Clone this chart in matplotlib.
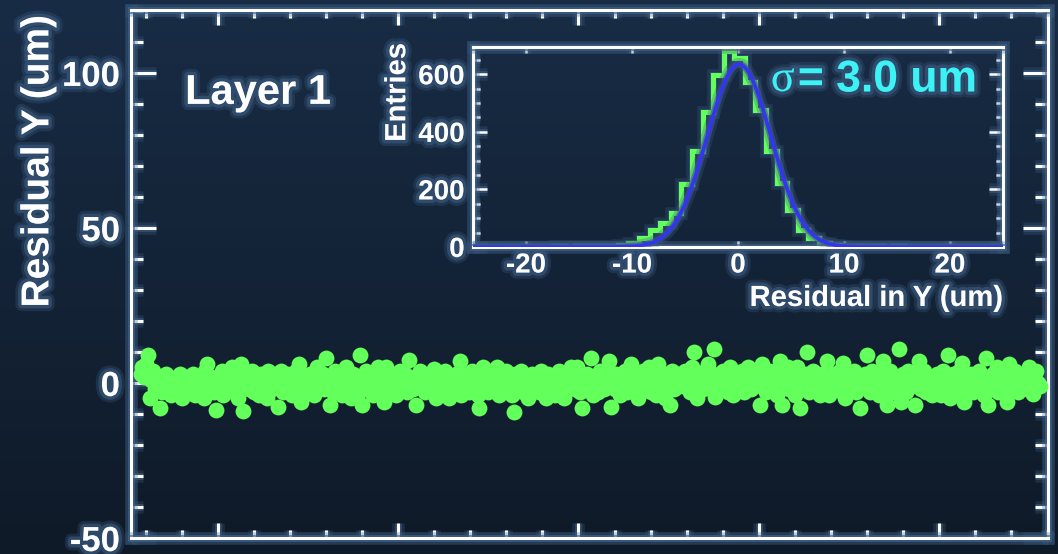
import numpy as np
import matplotlib
matplotlib.use("Agg")
import matplotlib.pyplot as plt
import matplotlib.patheffects as pe
from matplotlib.colors import LinearSegmentedColormap
from matplotlib.ticker import MultipleLocator, NullFormatter, FixedLocator

# ---- data ----
# residual in Y (um) for each event, events 57..556, 20 per row
event_first = 57
resid_y = [
    3, 5, 2, 6, 9, -5, 1, 4, -2, 0, 2, -8, -3, 1, 3, -1, 2, -4, 0, 1,
    1, -2, 3, -5, 0, 2, -3, 1, -1, 3, -4, 0, 2, -2, 1, -5, 4, 6, -1, 2,
    0, -3, -8.7, 2, -1, 4, -4, 1, 3, -2, 0, 5, -3, 1, -5, 2, 6, -9, 0, 3,
    -2, 1, 4, -3, 0, 2, -4, 3, -1, 1, -5, 4, 0, -2, 3, -1, -7.7, 2, 4, -3,
    1, -2, 3, 0, -4, 2, 4, -1, 6, -6, 1, -3, 2, 0, 3, -2, -4, 1, 5, -1,
    0, 3, -2, 8, 1, -7, 2, -3, 4, 0, -1, 3, -4, 2, 5, -2, 1, -5, 3, 0,
    2, -3, 9, -7, 1, 4, -2, 0, 3, -4, 2, -1, 5, 1, -3, -6, 5, 0, -2, 3,
    -1, 2, -4, 1, 4, -2, 0, 3, -3, 7.5, 1, -2, 2, -7, 0, 4, -1, 2, -3, 1,
    3, -2, 0, 4.5, -5, 1, 2, -3, 0, 4, -1, -5, 2, 1, -2, 3, 0, 7, -4, 2,
    -1, 3, -3, 1, 4, -2, 0, -4, -8, 2, 5, -1, 3, -3, 1, 4, -2, 0, 5, -4,
    1, -3, 2, 4, -1, 0, -4, -9.3, 3, -2, 1, 4, -3, 0, 2, -5, 1, 3, -2, 0,
    2, -3, 4, -1, 0, -5, 3, 1, -2, 2, -4, 0, 4, -1, 3, -5, 1, -2, 2, 5,
    0, -2, 5, 1, -3, -8, 2, 0, 3, -1, 8, -4, 2, 1, -3, 4, 0, -2, 3, -1,
    7, -7.7, 1, -2, 3, 0, -4, 2, -1, 4, -3, 1, 6, -2, 0, 3, -5, 2, -1, 4,
    -2, 1, 5, -3, 0, 2, -4, 6, 1, -1, 3, -5, 0, 2, -7, 4, -2, 1, 3, -1,
    2, -1, 4, 0, 3, -3, 5, 10, 1, -5, 3, 2, -2, 4, 1, 6, -1, 3, 11, -4.5,
    1, 3, -2, 4, 0, 2, -3, 5, 1, -4, 2, 0, 3, -1, 4, -3, 1, 5, 0, -2,
    2, -1, 3, 0, -7, 6, 1, -3, 2, 4, -2, 0, 3, -4, 1, 7, -7, 2, 0, 5,
    -2, 3, 1, -4, 5, 0, -8, 2, -1, 3, 10, -3, 1, 4, -2, 0, 2, -4, 3, 1,
    0, 7, -4, 2, -1, 3, 1, -2, 4, -3, 6.5, -5, 1, 3, -2, 0, 4, -3, 2, -8,
    2, -1, 3, 9, 0, -3, 4, -2, 1, 3, -4, 2, 7, -1, -7, 1, 4, -3, 0, 2,
    -2, 11, -6, 3, 1, -3, 4, 0, -1, 2, -7, 3, 7, -2, 1, 4, -3, 0, 2, -4,
    1, -2, 3, 0, -4, 4, 2, -1, 9, -5, 1, 3, -2, 0, 4, -3, 6.5, -6, 2, 1,
    -1, 3, -3, 2, 0, 4, -2, 1, -4, 8, -7, 2, 0, 3, -1, 5, -3, 1, 2, -2,
    3, -6, 6, 0, -2, 4, 1, -3, 2, -1, 3, 0, -2, 5, 1, -3.5, 2, 4, 0, -1,
]
events = np.arange(event_first, event_first + len(resid_y))

# inset histogram: 1 um bins, left edges at k - 0.35 for k = -25..25
hist_k = np.arange(-25, 26)
hist_counts = [
    1, 0, 1, 0, 1, 1, 0, 1, 2, 1, 2, 3,
    3, 5, 8, 15, 30,
    60, 83, 118, 218, 335, 470, 598, 680, 655, 574, 475, 335, 224, 130, 60, 30, 15,
    8, 5, 3, 3, 2,
    1, 2, 1, 0, 1, 1, 0, 1, 0, 1, 0, 1,
]
hist_edges = np.append(hist_k - 0.35, hist_k[-1] + 0.65)

# gaussian fit shown in the inset
fit_amp = 635.0
fit_mean = 0.1
fit_sigma = 3.0

green = "#63ff5a"
blue = "#3434f2"
cyan = "#3cf2f5"
halo = "#3b5b80"

plt.rcParams["axes.unicode_minus"] = False

fig = plt.figure(figsize=(10.58, 5.54), dpi=100)
fig.patch.set_facecolor("#13233a")

# background gradient
bg = fig.add_axes([0, 0, 1, 1], zorder=-10)
bg_cmap = LinearSegmentedColormap.from_list("bg", ["#182c45", "#0f1a28"])
bg.imshow(np.linspace(0, 1, 256).reshape(-1, 1), aspect="auto", cmap=bg_cmap,
          extent=[0, 1, 0, 1])
bg.axis("off")

# soft glow on everything drawn from here on
plt.rcParams["path.effects"] = [
    pe.Stroke(linewidth=9, foreground=halo, alpha=0.3),
    pe.Stroke(linewidth=5, foreground=halo, alpha=0.6),
    pe.Normal(),
]
plt.rcParams["font.family"] = ["Liberation Sans", "DejaVu Sans"]
plt.rcParams["font.weight"] = "bold"

# ---- main panel ----
ax = fig.add_axes([0.1238, 0.0289, 0.8667, 0.9531])
ax.set_facecolor("none")
ax.scatter(events, resid_y, s=130, color=green, linewidths=0, zorder=3)
ax.set_xlim(51.7, 560.5)
ax.set_ylim(-50, 120.3)
ax.xaxis.set_major_locator(FixedLocator([100, 200, 300, 400, 500]))
ax.xaxis.set_minor_locator(MultipleLocator(20))
ax.xaxis.set_major_formatter(NullFormatter())
ax.yaxis.set_major_locator(FixedLocator([-50, 0, 50, 100]))
ax.yaxis.set_minor_locator(MultipleLocator(10))
for s in ax.spines.values():
    s.set_color("white")
    s.set_linewidth(2.2)
ax.tick_params(axis="both", which="both", direction="in", colors="white",
               top=True, right=True, width=2.2)
ax.tick_params(axis="y", which="major", length=18, labelsize=25, pad=8)
ax.tick_params(axis="y", which="minor", length=9)
ax.tick_params(axis="x", which="major", length=11)
ax.tick_params(axis="x", which="minor", length=6)
ax.text(-0.101, 0.99, "Residual Y (um)", transform=ax.transAxes, rotation=90,
        ha="center", va="top", fontsize=28, color="white", fontweight="bold")
ax.text(0.059, 0.843, "Layer 1", transform=ax.transAxes, ha="left", va="center",
        fontsize=30, color="white", fontweight="bold")

# ---- inset histogram ----
ins = fig.add_axes([0.4471, 0.5542, 0.5009, 0.361])
ins.set_facecolor("none")
ins.stairs(hist_counts, hist_edges, fill=False, color=green, lw=3.6,
           baseline=0, zorder=2)
xf = np.linspace(-25, 25, 600)
ins.plot(xf, fit_amp * np.exp(-0.5 * ((xf - fit_mean) / fit_sigma) ** 2),
         color=blue, lw=2.6, zorder=3)
ins.set_xlim(-25, 25)
ins.set_ylim(0, 695)
ins.xaxis.set_major_locator(FixedLocator([-20, -10, 0, 10, 20]))
ins.yaxis.set_major_locator(FixedLocator([0, 200, 400, 600]))
ins.yaxis.set_minor_locator(MultipleLocator(50))
for s in ins.spines.values():
    s.set_color("white")
    s.set_linewidth(2.2)
ins.tick_params(axis="both", which="both", direction="in", colors="white",
                top=True, right=True, width=1.8)
ins.tick_params(axis="y", which="major", length=10, labelsize=20, pad=6)
ins.tick_params(axis="y", which="minor", length=5)
ins.tick_params(axis="x", which="major", length=4, labelsize=20, pad=4)
ins.text(-0.143, 1.02, "Entries", transform=ins.transAxes, rotation=90,
         ha="center", va="top", fontsize=21, color="white", fontweight="bold")
ins.text(1.0, -0.255, "Residual in Y (um)", transform=ins.transAxes,
         ha="right", va="center", fontsize=21, color="white", fontweight="bold")
ins.text(0.562, 0.835, "σ", transform=ins.transAxes, ha="left", va="center",
         fontsize=32, color=cyan, family=["Liberation Serif", "DejaVu Serif"],
         fontweight="normal")
ins.text(0.613, 0.835, "= 3.0 um", transform=ins.transAxes, ha="left",
         va="center", fontsize=32, color=cyan, fontweight="bold")

fig.savefig("out.png", dpi=100, facecolor=fig.get_facecolor())
